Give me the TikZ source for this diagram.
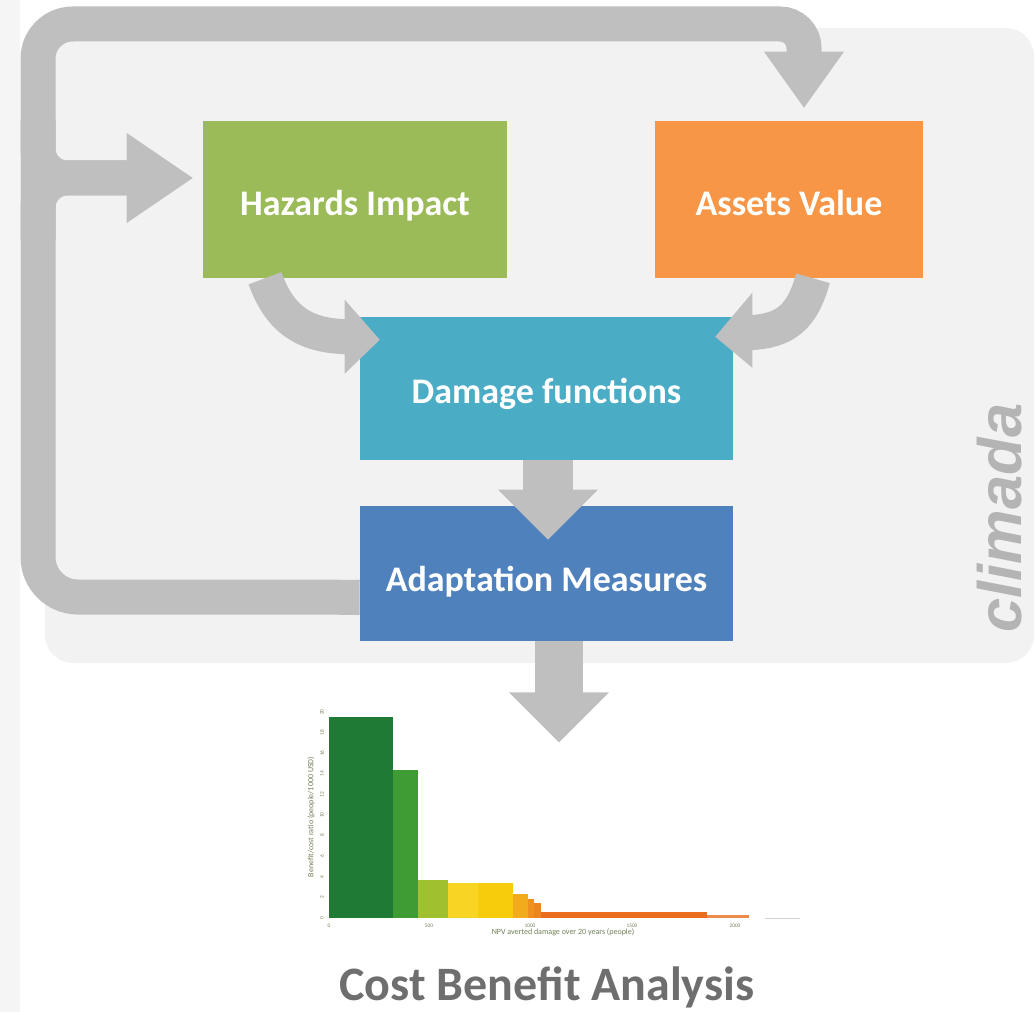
\documentclass[tikz,border=0pt]{standalone}
\usepackage{fontspec}
\setmainfont{Carlito}
\newfontfamily\brandfont{Liberation Sans}
\usetikzlibrary{calc}

\definecolor{stripgray}{HTML}{F5F5F5}
\definecolor{panelgray}{HTML}{F2F2F2}
\definecolor{flowgray}{HTML}{BFBFBF}
\definecolor{hazgreen}{HTML}{9BBB59}
\definecolor{assetorange}{HTML}{F79646}
\definecolor{damteal}{HTML}{4BACC6}
\definecolor{adaptblue}{HTML}{4F81BD}
\definecolor{titlegray}{HTML}{6E6E6E}
\definecolor{brandgray}{HTML}{B4B4B4}
\definecolor{axisgreen}{HTML}{6F7F55}
\definecolor{barA}{HTML}{1F7A35}
\definecolor{barB}{HTML}{3F9B34}
\definecolor{barC}{HTML}{A0C12D}
\definecolor{barD}{HTML}{F9D523}
\definecolor{barE}{HTML}{F7CC0C}
\definecolor{barF}{HTML}{F2AB1C}
\definecolor{barG}{HTML}{EF901F}
\definecolor{barH}{HTML}{EC8420}
\definecolor{barI}{HTML}{E96D1D}
\definecolor{barJ}{HTML}{EE8A4A}

\tikzset{
  box/.style={rectangle, draw=none, inner sep=0pt},
  boxlabel/.style={anchor=base, text=white, font=\fontsize{27}{30}\selectfont\bfseries},
  flow/.style={draw=flowgray, line width=26.25pt},
  head/.style={fill=flowgray},
  ticklabel/.style={text=axisgreen, font=\fontsize{4}{4}\selectfont, inner sep=0pt},
  axislabel/.style={text=axisgreen, font=\fontsize{6}{6}\selectfont, inner sep=0pt},
}

\begin{document}
\begin{tikzpicture}[x=0.75pt,y=-0.75pt]
\useasboundingbox (0,0) rectangle (1036,1012);

% page margin strip and the shaded climada panel
\fill[stripgray] (0,0) rectangle (20,1012);
\fill[panelgray, rounded corners=21pt] (45,28) rectangle (1034,663);

% brand lettering along the right side of the panel
\node[anchor=base, rotate=90, text=brandgray, inner sep=0pt,
      font=\brandfont\fontsize{46}{46}\selectfont\bfseries\itshape] (brand) at (1021,518) {climada};

% the four model components
\node[box, fill=hazgreen,    minimum width=228pt,    minimum height=117.75pt] (haz)    at (355,199.5) {};
\node[box, fill=assetorange, minimum width=201pt,    minimum height=117.75pt] (assets) at (789,199.5) {};
\node[box, fill=damteal,     minimum width=279.75pt, minimum height=107.25pt] (dmg)    at (546.5,388.5) {};
\node[box, fill=adaptblue,   minimum width=279.75pt, minimum height=101.25pt] (adapt)  at (546.5,573.5) {};

\node[boxlabel] (hazt)    at ($(haz.center)+(0,16.5)$)    {Hazards Impact};
\node[boxlabel] (assetst) at ($(assets.center)+(0,16.5)$) {Assets Value};
\node[boxlabel] (dmgt)    at ($(dmg.center)+(0,15.5)$)    {Damage functions};
\node[boxlabel] (adaptt)  at ($(adapt.center)+(0,17.5)$)  {Adaptation Measures};

% feedback loop from the measures back to hazards and assets
\coordinate (loopstart) at ($(adapt.south west)+(0,-44)$);
\coordinate (assetstip) at ($(assets.north)+(15,-13)$);
\coordinate (haztip)    at ($(haz.west)+(-10,-21.5)$);

\draw[flow] (loopstart) [rounded corners=30pt] -- (38,597)
            [rounded corners=26pt] -- (38,24)
            [rounded corners=18pt] -- (assetstip |- 0,24)
            [sharp corners] -- ($(assetstip)+(0,-50)$);
\fill[head] ($(assetstip)+(-40,-56)$) -- (assetstip) -- ($(assetstip)+(40,-56)$) -- cycle;

\draw[flow, rounded corners=22pt] (38,120) -- (38,178) -- ($(haztip)+(-62,0)$);
\draw[flow, rounded corners=22pt] (38,240) -- (38,178) -- ($(haztip)+(-62,0)$);
\fill[head] ($(haztip)+(-66,-45)$) -- (haztip) -- ($(haztip)+(-66,45)$) -- cycle;

% hazards and assets feed the damage functions
\coordinate (dmgtipL) at ($(dmg.north west)+(20,23)$);
\draw[flow] ($(haz.south)+(-90,0)$) .. controls (280,320) and (305,336) .. ($(dmg.north west)+(-12,20)$);
\fill[head] ($(dmg.north west)+(-15,-17)$) -- (dmgtipL) -- ($(dmg.north west)+(-15,57)$) -- cycle;

\coordinate (dmgtipR) at ($(dmg.north east)+(-18,20)$);
\draw[flow] ($(assets.south)+(24,0)$) .. controls (802,318) and (785,331) .. ($(dmg.north east)+(16,16)$);
\fill[head] ($(dmg.north east)+(19,-24)$) -- (dmgtipR) -- ($(dmg.north east)+(19,51)$) -- cycle;

% damage functions drive the adaptation measures
\coordinate (adapttip) at ($(adapt.north)+(1.5,34)$);
\draw[draw=flowgray, line width=37.5pt] ($(dmg.south)+(1.5,0)$) -- ($(adapttip)+(0,-46)$);
\fill[head] ($(adapttip)+(-50,-50)$) -- (adapttip) -- ($(adapttip)+(50,-50)$) -- cycle;

% measures lead to the cost benefit analysis
\coordinate (cbatip) at ($(adapt.south)+(12.5,101)$);
\draw[draw=flowgray, line width=36pt] ($(adapt.south)+(12.5,0)$) -- ($(cbatip)+(0,-46)$);
\fill[head] ($(cbatip)+(-50,-50)$) -- (cbatip) -- ($(cbatip)+(50,-50)$) -- cycle;

% benefit/cost bar chart
\fill[barA] (329,717) rectangle (393,918);
\fill[barB] (393,770) rectangle (418,918);
\fill[barC] (418,880) rectangle (448,918);
\fill[barD] (448,883) rectangle (478,918);
\fill[barE] (478,883) rectangle (513,918);
\fill[barF] (513,894) rectangle (528,918);
\fill[barG] (528,899) rectangle (534,918);
\fill[barH] (534,903) rectangle (541,918);
\fill[barI] (541,912) rectangle (707,918);
\fill[barJ] (707,915) rectangle (749,918);
\draw[draw=black!18, line width=0.6pt] (765,918) -- (800,918);

\foreach \v in {0,2,...,20}
  \node[ticklabel, rotate=90] at (322,918-10.3*\v) {\v};
\foreach \v/\px in {0/329,500/429,1000/530,1500/632,2000/735}
  \node[ticklabel] at (\px,926) {\v};
\node[axislabel, rotate=90] (ylab) at (311,817) {Benefit/cost ratio (people/1000 USD)};
\node[axislabel] (xlab) at (563,932) {NPV averted damage over 20 years (people)};

% caption
\node[anchor=base, text=titlegray, font=\fontsize{36}{40}\selectfont\bfseries] (cba) at (547,1000) {Cost Benefit Analysis};
\end{tikzpicture}
\end{document}
